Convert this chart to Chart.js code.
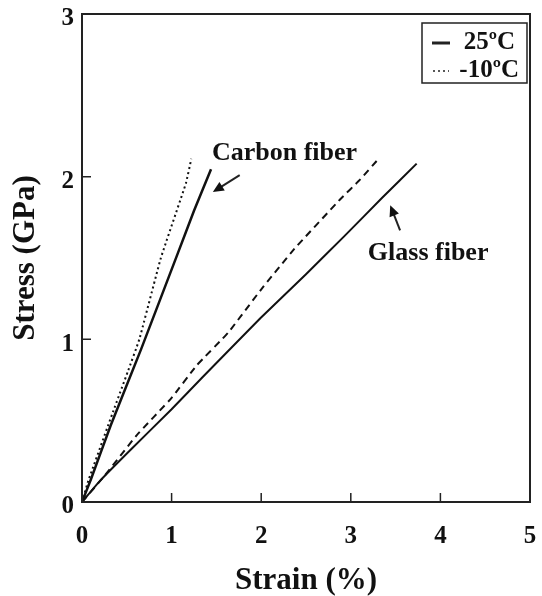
<!DOCTYPE html>
<html>
<head>
<meta charset="utf-8">
<script src="https://cdn.jsdelivr.net/npm/chart.js@4.4.1/dist/chart.umd.min.js"></script>
<style>
  html, body { margin: 0; padding: 0; background: #fff; }
  #wrap { width: 542px; height: 596px; }
</style>
</head>
<body>
<div id="wrap"><canvas id="chart" width="542" height="596"></canvas></div>
<script>
// --- data (strain %, stress GPa) ---
const carbon25Strain = [0, 0.10, 0.32, 0.66, 1.07, 1.25, 1.44];
const carbon25Stress = [0, 0.14, 0.47, 0.94, 1.53, 1.79, 2.045];
const carbonM10Strain = [0, 0.07, 0.35, 0.51, 0.64, 0.88, 1.16, 1.22];
const carbonM10Stress = [0, 0.13, 0.56, 0.80, 1.00, 1.50, 1.96, 2.11];
const glass25Strain = [0, 0.2, 0.54, 1.0, 1.35, 1.99, 2.5, 2.92, 3.35, 3.735];
const glass25Stress = [0, 0.13, 0.32, 0.57, 0.77, 1.13, 1.40, 1.63, 1.87, 2.08];
const glassM10Strain = [0, 0.25, 0.61, 1.0, 1.28, 1.63, 1.99, 2.36, 2.88, 3.10, 3.31];
const glassM10Stress = [0, 0.16, 0.41, 0.64, 0.84, 1.04, 1.30, 1.55, 1.86, 1.98, 2.11];

const xTicks = [0, 1, 2, 3, 4, 5];
const yTicks = [0, 1, 2, 3];
const legendLabels = ['25\u00baC', '-10\u00baC'];

const serif = '"Liberation Serif", "DejaVu Serif", serif';

function pts(xs, ys) { return xs.map((x, i) => ({ x: x, y: ys[i] })); }

function lineSet(label, xs, ys, dash, width) {
    return {
        label: label,
        data: pts(xs, ys),
        showLine: true,
        borderColor: '#111',
        borderWidth: width,
        borderDash: dash,
        pointRadius: 0,
        tension: 0.1,
        fill: false
    };
}

// frame, inner ticks, legend box and labels
const decorations = {
    id: 'decorations',
    afterDraw(chart) {
        const ctx = chart.ctx;
        const a = chart.chartArea;
        const xs = chart.scales.x, ys = chart.scales.y;
        ctx.save();
        ctx.strokeStyle = '#222';
        ctx.lineWidth = 2;
        ctx.strokeRect(a.left, a.top, a.right - a.left, a.bottom - a.top);

        ctx.lineWidth = 1.5;
        ctx.beginPath();
        xTicks.slice(1, -1).forEach(v => {
            const px = xs.getPixelForValue(v);
            ctx.moveTo(px, a.bottom);
            ctx.lineTo(px, a.bottom - 9);
        });
        yTicks.slice(1, -1).forEach(v => {
            const py = ys.getPixelForValue(v);
            ctx.moveTo(a.left, py);
            ctx.lineTo(a.left + 9, py);
        });
        ctx.stroke();

        // legend box
        const bx = a.right - 108, by = a.top + 9, bw = 105, bh = 60;
        ctx.lineWidth = 1.5;
        ctx.strokeRect(bx, by, bw, bh);
        ctx.lineWidth = 3;
        ctx.beginPath();
        ctx.moveTo(bx + 10, by + 20);
        ctx.lineTo(bx + 28, by + 20);
        ctx.stroke();
        ctx.lineWidth = 1.5;
        ctx.setLineDash([2, 3]);
        ctx.beginPath();
        ctx.moveTo(bx + 11, by + 48);
        ctx.lineTo(bx + 27, by + 48);
        ctx.stroke();
        ctx.setLineDash([]);
        ctx.fillStyle = '#111';
        ctx.font = 'bold 25px ' + serif;
        ctx.textBaseline = 'middle';
        ctx.textAlign = 'right';
        ctx.fillText(legendLabels[0], bx + bw - 12, by + 20);
        ctx.fillText(legendLabels[1], bx + bw - 8, by + 48);

        // annotations
        ctx.textAlign = 'left';
        ctx.font = 'bold 26px ' + serif;
        ctx.fillText('Carbon fiber', xs.getPixelForValue(1.45), ys.getPixelForValue(2.145));
        ctx.fillText('Glass fiber', xs.getPixelForValue(3.19), ys.getPixelForValue(1.53));

        arrow(ctx, xs.getPixelForValue(1.76), ys.getPixelForValue(2.01),
                   xs.getPixelForValue(1.46), ys.getPixelForValue(1.905));
        arrow(ctx, xs.getPixelForValue(3.55), ys.getPixelForValue(1.67),
                   xs.getPixelForValue(3.44), ys.getPixelForValue(1.825));
        ctx.restore();
    }
};

function arrow(ctx, x1, y1, x2, y2) {
    const ang = Math.atan2(y2 - y1, x2 - x1);
    const hl = 11, hw = 5;
    ctx.lineWidth = 2;
    ctx.beginPath();
    ctx.moveTo(x1, y1);
    ctx.lineTo(x2 - Math.cos(ang) * hl * 0.8, y2 - Math.sin(ang) * hl * 0.8);
    ctx.stroke();
    ctx.beginPath();
    ctx.moveTo(x2, y2);
    ctx.lineTo(x2 - Math.cos(ang) * hl - Math.sin(ang) * hw, y2 - Math.sin(ang) * hl + Math.cos(ang) * hw);
    ctx.lineTo(x2 - Math.cos(ang) * hl + Math.sin(ang) * hw, y2 - Math.sin(ang) * hl - Math.cos(ang) * hw);
    ctx.closePath();
    ctx.fill();
}

new Chart(document.getElementById('chart').getContext('2d'), {
    type: 'scatter',
    data: {
        datasets: [
            lineSet('Carbon 25', carbon25Strain, carbon25Stress, [], 2.5),
            lineSet('Carbon -10', carbonM10Strain, carbonM10Stress, [2, 3], 2),
            lineSet('Glass 25', glass25Strain, glass25Stress, [], 2),
            lineSet('Glass -10', glassM10Strain, glassM10Stress, [7, 5], 2)
        ]
    },
    options: {
        responsive: false,
        animation: false,
        layout: { padding: { left: 0, right: 12, top: 14, bottom: 0 } },
        plugins: { legend: { display: false }, tooltip: { enabled: false } },
        scales: {
            x: {
                type: 'linear',
                min: 0, max: 5,
                afterBuildTicks: s => { s.ticks = xTicks.map(v => ({ value: v })); },
                afterFit: s => { s.height = 94; s.paddingLeft = 0; s.paddingRight = 0; },
                grid: { display: false, drawTicks: false },
                border: { display: false },
                ticks: { color: '#111', padding: 20, maxRotation: 0,
                         font: { family: serif, size: 25, weight: 'bold' } },
                title: { display: true, text: 'Strain (%)', color: '#111',
                         padding: { top: 0, bottom: 0 },
                         font: { family: serif, size: 31, weight: 'bold', lineHeight: 1 } }
            },
            y: {
                type: 'linear',
                min: 0, max: 3,
                afterBuildTicks: s => { s.ticks = yTicks.map(v => ({ value: v })); },
                afterFit: s => { s.width = 82; s.paddingTop = 0; s.paddingBottom = 0; },
                grid: { display: false, drawTicks: false },
                border: { display: false },
                ticks: { color: '#111', padding: 8, labelOffset: 5,
                         font: { family: serif, size: 25, weight: 'bold' } },
                title: { display: true, text: 'Stress (GPa)', color: '#111',
                         padding: { top: 10, bottom: 0 },
                         font: { family: serif, size: 31, weight: 'bold', lineHeight: 1 } }
            }
        }
    },
    plugins: [decorations]
});
</script>
</body>
</html>
